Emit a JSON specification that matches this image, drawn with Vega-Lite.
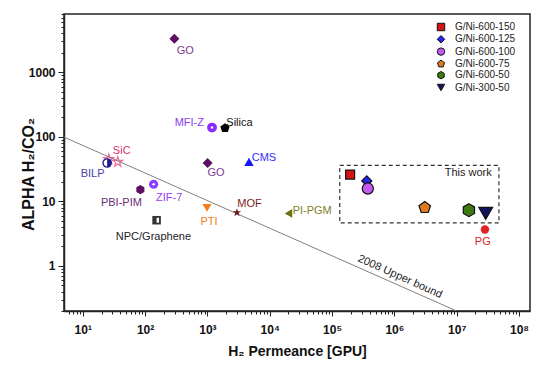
{
  "$schema": "https://vega.github.io/schema/vega-lite/v6.json",
  "width": 466,
  "height": 297,
  "autosize": "none",
  "padding": {"left": 64, "top": 14, "right": 25, "bottom": 59},
  "config": {
    "font": "Liberation Sans",
    "view": {"stroke": "#222222", "strokeWidth": 1.5},
    "axis": {"domainColor": "#222222", "domainWidth": 1.5, "tickColor": "#222222", "tickWidth": 1, "grid": false, "labelFont": "Liberation Sans", "labelFontWeight": "bold", "labelFontSize": 12, "labelColor": "#111111", "titleFont": "Liberation Sans", "titleFontWeight": "bold", "titleColor": "#111111", "labelOverlap": false, "labelFlush": false}
  },
  "datasets": {
    "bound": [{"x": 5, "y": 99}, {"x": 10000000, "y": 0.2}],
    "box": [{"x": 133000, "xe": 47600000, "y": 4.63, "ye": 36.2}],
    "lit": [
      {"name": "GO", "x": 295, "y": 3311},
      {"name": "MFI-Z", "x": 1186, "y": 139},
      {"name": "Silica", "x": 1914, "y": 137},
      {"name": "BILP", "x": 24.6, "y": 39.3},
      {"name": "GO", "x": 1007, "y": 39.3},
      {"name": "CMS", "x": 4645, "y": 41},
      {"name": "PBI-PIM", "x": 84, "y": 15.2},
      {"name": "ZIF-7", "x": 137, "y": 18.4},
      {"name": "PTI", "x": 986, "y": 7.9},
      {"name": "MOF", "x": 2980, "y": 6.7},
      {"name": "PI-PGM", "x": 20000, "y": 6.5},
      {"name": "NPC/Graphene", "x": 153, "y": 5.1},
      {"name": "PG", "x": 28400000, "y": 3.66}
    ],
    "sic": [
      {"name": "SiC", "x": 26.1, "y": 44.9},
      {"name": "SiC", "x": 36.4, "y": 40.7}
    ],
    "work": [
      {"series": "G/Ni-600-150", "x": 195000, "y": 26.0},
      {"series": "G/Ni-600-125", "x": 361000, "y": 20.7},
      {"series": "G/Ni-600-100", "x": 375000, "y": 15.8},
      {"series": "G/Ni-600-75", "x": 3070000, "y": 8.0},
      {"series": "G/Ni-600-50", "x": 15700000, "y": 7.3},
      {"series": "G/Ni-300-50", "x": 29200000, "y": 6.5}
    ],
    "labels": [
      {"label": "GO", "x": 443, "y": 2130},
      {"label": "MFI-Z", "x": 513, "y": 164},
      {"label": "Silica", "x": 3270, "y": 166},
      {"label": "SiC", "x": 42.2, "y": 59.7},
      {"label": "BILP", "x": 14.4, "y": 26.3},
      {"label": "GO", "x": 1377, "y": 27.5},
      {"label": "CMS", "x": 8070, "y": 47},
      {"label": "PBI-PIM", "x": 41.7, "y": 9.35},
      {"label": "ZIF-7", "x": 243, "y": 11.2},
      {"label": "PTI", "x": 1064, "y": 4.87},
      {"label": "MOF", "x": 4730, "y": 9.02},
      {"label": "PI-PGM", "x": 48000, "y": 7.1},
      {"label": "NPC/Graphene", "x": 136, "y": 2.81},
      {"label": "PG", "x": 26200000, "y": 2.35},
      {"label": "This work", "x": 15300000, "y": 27.5}
    ],
    "boundlabel": [{"label": "2008 Upper bound", "x": 1230000, "y": 0.676}]
  },
  "encoding": {
    "x": {
      "field": "x", "type": "quantitative",
      "scale": {"type": "log", "domain": [5, 150000000], "nice": false},
      "axis": {
        "title": "H₂ Permeance [GPU]", "titleFontSize": 14, "titleBaseline": "alphabetic", "titleY": 44,
        "values": [6,7,8,9,10,20,30,40,50,60,70,80,90,100,200,300,400,500,600,700,800,900,1000,2000,3000,4000,5000,6000,7000,8000,9000,10000,20000,30000,40000,50000,60000,70000,80000,90000,100000,200000,300000,400000,500000,600000,700000,800000,900000,1000000,2000000,3000000,4000000,5000000,6000000,7000000,8000000,9000000,10000000,20000000,30000000,40000000,50000000,60000000,70000000,80000000,90000000,100000000],
        "labelExpr": "abs(log(datum.value)/LN10 - round(log(datum.value)/LN10)) < 0.01 ? '10' + ['⁰','¹','²','³','⁴','⁵','⁶','⁷','⁸'][round(log(datum.value)/LN10)] : ''",
        "tickSize": {"condition": {"test": "abs(log(datum.value)/LN10 - round(log(datum.value)/LN10)) < 0.01", "value": 5}, "value": 3},
        "labelPadding": 8
      }
    },
    "y": {
      "field": "y", "type": "quantitative",
      "scale": {"type": "log", "domain": [0.2, 8000], "nice": false},
      "axis": {
        "title": "ALPHA H₂/CO₂", "titleFontSize": 16, "titleBaseline": "alphabetic", "titleX": -31, "titleY": 160, "titleAngle": -90,
        "values": [0.2,0.3,0.4,0.5,0.6,0.7,0.8,0.9,1,2,3,4,5,6,7,8,9,10,20,30,40,50,60,70,80,90,100,200,300,400,500,600,700,800,900,1000,2000,3000,4000,5000,6000,7000,8000],
        "labelExpr": "abs(log(datum.value)/LN10 - round(log(datum.value)/LN10)) < 0.01 ? format(datum.value, 'd') : ''",
        "tickSize": {"condition": {"test": "abs(log(datum.value)/LN10 - round(log(datum.value)/LN10)) < 0.01", "value": 6}, "value": 3},
        "labelPadding": 3
      }
    }
  },
  "layer": [
    {
      "data": {"name": "bound"},
      "mark": {"type": "line", "color": "#808080", "strokeWidth": 1, "clip": true},
      "encoding": {}
    },
    {
      "data": {"name": "box"},
      "mark": {"type": "rect", "fill": null, "fillOpacity": 0, "stroke": "#333333", "strokeWidth": 1.2, "strokeDash": [4, 3]},
      "encoding": {"x2": {"field": "xe"}, "y2": {"field": "ye"}}
    },
    {
      "data": {"name": "sic"},
      "mark": {"type": "point", "shape": "M0,-1L0.2245,-0.309L0.951,-0.309L0.363,0.118L0.588,0.809L0,0.382L-0.588,0.809L-0.363,0.118L-0.951,-0.309L-0.2245,-0.309Z", "filled": false, "stroke": "#E0306A", "strokeWidth": 1.2, "size": 110}
    },
    {
      "data": {"name": "lit"},
      "mark": {"type": "point", "filled": true, "opacity": 1},
      "encoding": {
        "fill": {"field": "name", "type": "nominal", "legend": null,
          "scale": {"domain": ["GO","MFI-Z","Silica","BILP","CMS","PBI-PIM","ZIF-7","PTI","MOF","PI-PGM","NPC/Graphene","PG"],
                    "range": ["#5C0F63","#8C2BFF","#000000","#1C1C8C","#1515FF","#5C0F63","#8C3CFF","#F07D1E","#6B1414","#6E6E12","#333333","#E52222"]}},
        "shape": {"field": "name", "type": "nominal", "legend": null,
          "scale": {"domain": ["GO","MFI-Z","Silica","BILP","CMS","PBI-PIM","ZIF-7","PTI","MOF","PI-PGM","NPC/Graphene","PG"],
                    "range": ["diamond","circle","M0,-1L0.951,-0.309L0.588,0.809L-0.588,0.809L-0.951,-0.309Z","circle","triangle-up","M0,-1L0.866,-0.5L0.866,0.5L0,1L-0.866,0.5L-0.866,-0.5Z","circle","triangle-down","M0,-1L0.2245,-0.309L0.951,-0.309L0.363,0.118L0.588,0.809L0,0.382L-0.588,0.809L-0.363,0.118L-0.951,-0.309L-0.2245,-0.309Z","triangle-left","square","circle"]}},
        "size": {"field": "name", "type": "nominal", "legend": null,
          "scale": {"domain": ["GO","MFI-Z","Silica","BILP","CMS","PBI-PIM","ZIF-7","PTI","MOF","PI-PGM","NPC/Graphene","PG"],
                    "range": [100,70,90,85,110,90,64,110,180,110,49,64]}}
      }
    },
    {
      "data": {"name": "lit"},
      "transform": [{"filter": "datum.name === 'BILP' || datum.name === 'NPC/Graphene'"}],
      "mark": {"type": "point", "filled": true, "fill": "#ffffff", "opacity": 1},
      "encoding": {
        "shape": {"field": "name", "type": "nominal", "legend": null,
          "scale": {"domain": ["BILP","NPC/Graphene"], "range": ["M0,-0.75A0.75,0.75 0 0,0 0,0.75Z","M0,-0.7L0.7,-0.7L0.7,0.7L0,0.7Z"]}},
        "size": {"field": "name", "type": "nominal", "legend": null,
          "scale": {"domain": ["BILP","NPC/Graphene"], "range": [85, 49]}}
      }
    },
    {
      "data": {"name": "lit"},
      "transform": [{"filter": "datum.name === 'MFI-Z' || datum.name === 'ZIF-7'"}],
      "mark": {"type": "point", "filled": true, "fill": "#ffffff", "shape": "circle", "size": 6, "opacity": 1}
    },
    {
      "data": {"name": "work"},
      "mark": {"type": "point", "filled": true, "opacity": 1, "stroke": "#111111", "strokeWidth": 1, "size": 20},
      "encoding": {
        "color": {"field": "series", "type": "nominal",
          "scale": {"domain": ["G/Ni-600-150","G/Ni-600-125","G/Ni-600-100","G/Ni-600-75","G/Ni-600-50","G/Ni-300-50"],
                    "range": ["#D41414","#2323F5","#C45AF0","#E07A22","#3C7A12","#12125E"]},
          "legend": {"title": null, "orient": "none", "legendX": 372, "legendY": 8, "labelFontSize": 10, "labelFont": "Liberation Sans", "labelColor": "#222222", "symbolSize": 55, "rowPadding": 0.3, "labelOffset": 9, "symbolStrokeColor": "#111111", "symbolStrokeWidth": 1}},
        "shape": {"field": "series", "type": "nominal",
          "scale": {"domain": ["G/Ni-600-150","G/Ni-600-125","G/Ni-600-100","G/Ni-600-75","G/Ni-600-50","G/Ni-300-50"],
                    "range": ["square","diamond","circle","M0,-1L0.951,-0.309L0.588,0.809L-0.588,0.809L-0.951,-0.309Z","M0,-1L0.866,-0.5L0.866,0.5L0,1L-0.866,0.5L-0.866,-0.5Z","triangle-down"]},
          "legend": {"title": null, "orient": "none", "legendX": 372, "legendY": 8, "labelFontSize": 10, "labelFont": "Liberation Sans", "labelColor": "#222222", "symbolSize": 55, "rowPadding": 0.3, "labelOffset": 9, "symbolStrokeColor": "#111111", "symbolStrokeWidth": 1}}
      }
    },
    {
      "data": {"name": "work"},
      "mark": {"type": "point", "filled": true, "opacity": 1, "stroke": "#111111", "strokeWidth": 1.2},
      "encoding": {
        "fill": {"field": "series", "type": "nominal", "legend": null,
          "scale": {"domain": ["G/Ni-600-150","G/Ni-600-125","G/Ni-600-100","G/Ni-600-75","G/Ni-600-50","G/Ni-300-50"],
                    "range": ["#D41414","#2323F5","#C45AF0","#E07A22","#3C7A12","#12125E"]}},
        "shape": {"field": "series", "type": "nominal", "legend": null,
          "scale": {"domain": ["G/Ni-600-150","G/Ni-600-125","G/Ni-600-100","G/Ni-600-75","G/Ni-600-50","G/Ni-300-50"],
                    "range": ["square","diamond","circle","M0,-1L0.951,-0.309L0.588,0.809L-0.588,0.809L-0.951,-0.309Z","M0,-1L0.866,-0.5L0.866,0.5L0,1L-0.866,0.5L-0.866,-0.5Z","triangle-down"]}},
        "size": {"field": "series", "type": "nominal", "legend": null,
          "scale": {"domain": ["G/Ni-600-150","G/Ni-600-125","G/Ni-600-100","G/Ni-600-75","G/Ni-600-50","G/Ni-300-50"],
                    "range": [80, 190, 130, 150, 140, 170]}}
      }
    },
    {
      "data": {"name": "labels"},
      "mark": {"type": "text", "font": "Liberation Sans", "fontSize": 11, "align": "center", "baseline": "middle"},
      "encoding": {
        "text": {"field": "label"},
        "color": {"field": "label", "type": "nominal", "legend": null,
          "scale": {"domain": ["GO","MFI-Z","Silica","SiC","BILP","CMS","PBI-PIM","ZIF-7","PTI","MOF","PI-PGM","NPC/Graphene","PG","This work"],
                    "range": ["#7B3A8F","#8A3CF0","#111111","#E0306A","#4A3FA8","#2F2FFF","#6A2C7A","#9A3CF5","#F07D1E","#7A2424","#808028","#222222","#E52222","#222222"]}}
      }
    },
    {
      "data": {"name": "boundlabel"},
      "mark": {"type": "text", "font": "Liberation Sans", "fontSize": 11, "align": "center", "baseline": "middle", "angle": 24, "color": "#222222"},
      "encoding": {"text": {"field": "label"}}
    }
  ],
  "resolve": {"scale": {"color": "independent", "shape": "independent", "size": "independent", "fill": "independent"}}
}
